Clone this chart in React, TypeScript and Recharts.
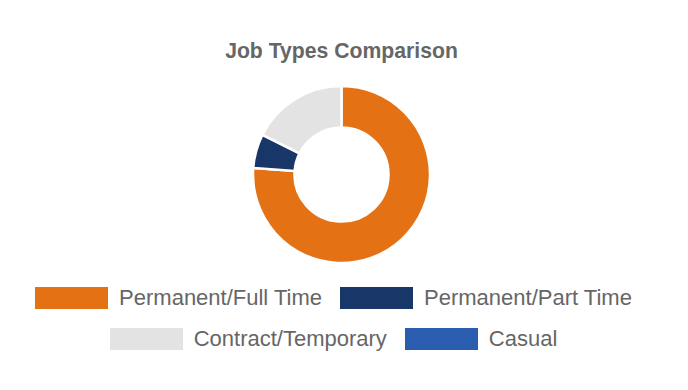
import React from "react";
import { PieChart, Pie, Cell, Legend } from "recharts";

const categories = ["Permanent/Full Time", "Permanent/Part Time", "Contract/Temporary", "Casual"];
const values = [76.2, 6.2, 17.6, 0];
const colors = ["#E47114", "#183667", "#E3E3E3", "#2A5DB0"];
const title = "Job Types Comparison";

const data = categories.map((name, i) => ({ name, value: values[i] }));

const LegendContent = () => {
  const rows = [[0, 1], [2, 3]];
  return (
    <div style={{ width: 648, fontFamily: "'Liberation Sans', Arial, sans-serif" }}>
      {rows.map((row, ri) => (
        <div
          key={ri}
          style={{ display: "flex", justifyContent: "center", alignItems: "center", height: 22, marginBottom: 19 }}
        >
          {row.map((i, k) => (
            <div key={i} style={{ display: "flex", alignItems: "center", marginLeft: k === 0 ? 0 : 18 }}>
              <div style={{ width: 73, height: 22, background: colors[i] }} />
              <span style={{ marginLeft: 11, fontSize: 22, lineHeight: "22px", color: "#666", whiteSpace: "nowrap" }}>
                {categories[i]}
              </span>
            </div>
          ))}
        </div>
      ))}
    </div>
  );
};

export default function App() {
  return (
    <div style={{ position: "relative", width: 672, height: 374 }}>
      <PieChart width={672} height={374} margin={{ top: 0, right: 0, bottom: 0, left: 0 }}>
        <text
          x={333.5}
          y={49.5}
          textAnchor="middle"
          style={{ fontFamily: "'Liberation Sans', Arial, sans-serif", fontWeight: 700, fontSize: 21.2, fill: "#666" }}
        >
          {title}
        </text>
        <Pie
          data={data}
          dataKey="value"
          nameKey="name"
          cx={333.5}
          cy={166.5}
          innerRadius={47}
          outerRadius={88.5}
          startAngle={90}
          endAngle={-270}
          stroke="#fff"
          strokeWidth={2.5}
          isAnimationActive={false}
        >
          {data.map((d, i) => (
            <Cell key={d.name} fill={colors[i]} />
          ))}
        </Pie>
        <Legend
          content={<LegendContent />}
          wrapperStyle={{ position: "absolute", left: 1.5, top: 279, width: 648 }}
        />
      </PieChart>
    </div>
  );
}
